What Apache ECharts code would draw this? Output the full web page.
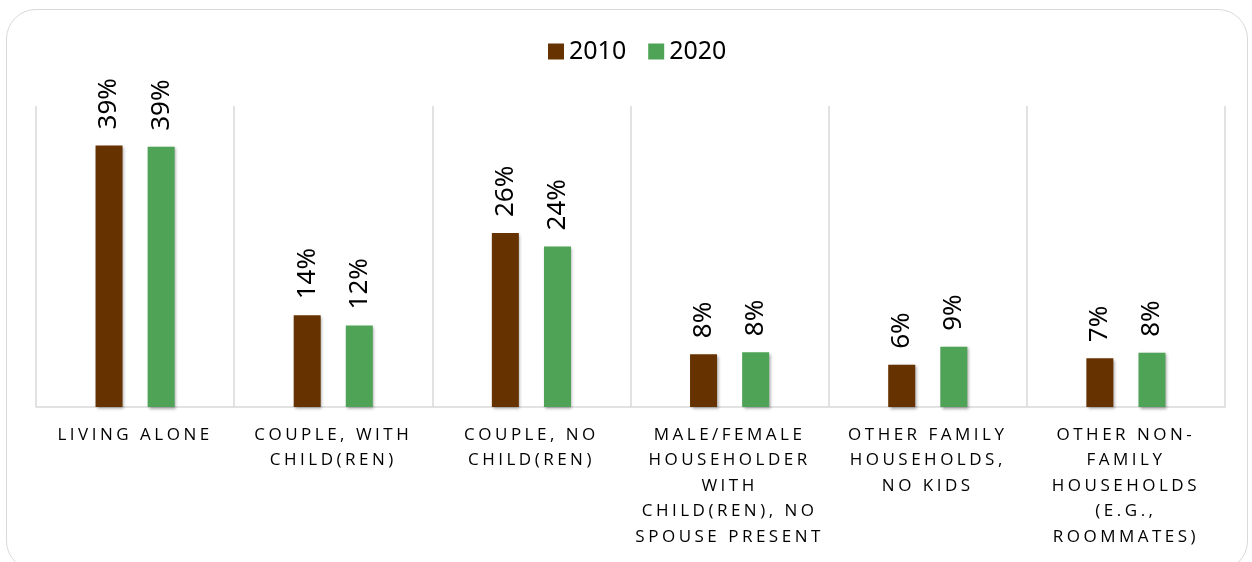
<!DOCTYPE html>
<html>
<head>
<meta charset="utf-8">
<script src="https://cdn.jsdelivr.net/npm/echarts@6/dist/echarts.min.js"></script>
<style>
  html, body { margin: 0; padding: 0; background: #fff; }
  #wrap { position: relative; width: 1252px; height: 562px; overflow: hidden; }
  #frame { position: absolute; left: 6px; top: 9px; width: 1242px; height: 562px;
           border: 1.5px solid #d9d9d9; border-radius: 30px; box-sizing: border-box; }
  #chart { position: absolute; left: 0; top: 0; width: 1252px; height: 562px; }
</style>
</head>
<body>
<div id="wrap">
  <div id="frame"></div>
  <div id="chart"></div>
</div>
<script>
// Letter-spaced category labels (the category font family gets extra tracking)
(function () {
  var orig = CanvasRenderingContext2D.prototype.fillText;
  CanvasRenderingContext2D.prototype.fillText = function (t, x, y, m) {
    var ls = this.font.indexOf('Open Sans') >= 0 ? '3.5px' : '0px';
    if ('letterSpacing' in this && this.letterSpacing !== ls) this.letterSpacing = ls;
    return m === undefined ? orig.call(this, t, x, y) : orig.call(this, t, x, y, m);
  };
})();

const categories = [
  'LIVING ALONE',
  'COUPLE, WITH\nCHILD(REN)',
  'COUPLE, NO\nCHILD(REN)',
  'MALE/FEMALE\nHOUSEHOLDER\nWITH\nCHILD(REN), NO\nSPOUSE PRESENT',
  'OTHER FAMILY\nHOUSEHOLDS,\nNO KIDS',
  'OTHER NON-\nFAMILY\nHOUSEHOLDS\n(E.G.,\nROOMMATES)'
];
const seriesNames = ['2010', '2020'];
const values2010 = [39.1, 13.7, 26.0, 7.9, 6.3, 7.3];
const values2020 = [38.9, 12.2, 24.0, 8.2, 9.0, 8.1];
const colors = ['#663300', '#4ea356'];

const chart = echarts.init(document.getElementById('chart'), null, { renderer: 'canvas' });

function makeSeries(name, data, color) {
  return {
    name: name,
    type: 'bar',
    data: data,
    barWidth: 27,
    barGap: '93%',
    itemStyle: {
      color: color,
      shadowBlur: 3,
      shadowOffsetX: 1.5,
      shadowOffsetY: 1.5,
      shadowColor: 'rgba(0,0,0,0.35)'
    },
    label: {
      show: true,
      position: 'top',
      rotate: 90,
      align: 'left',
      verticalAlign: 'middle',
      distance: 16,
      fontFamily: 'Noto Sans',
      fontSize: 26,
      color: '#000',
      formatter: function (p) { return Math.round(p.value) + '%'; }
    },
    emphasis: { disabled: true }
  };
}

chart.setOption({
  animation: false,
  backgroundColor: 'transparent',
  legend: {
    data: seriesNames,
    left: 543,
    top: 34,
    icon: 'rect',
    itemWidth: 16,
    itemHeight: 16,
    itemGap: 22,
    textStyle: { fontFamily: 'Noto Sans', fontSize: 25, color: '#000' }
  },
  grid: { left: 36, right: 27, top: 106, bottom: 155, containLabel: false },
  xAxis: {
    type: 'category',
    data: categories,
    axisLine: { show: true, lineStyle: { color: '#d9d9d9', width: 1.5 } },
    axisTick: { show: false },
    splitLine: { show: true, interval: 0, lineStyle: { color: '#d9d9d9', width: 1.5 } },
    axisLabel: {
      interval: 0,
      margin: 15,
      fontFamily: 'Open Sans',
      fontSize: 17,
      lineHeight: 25.5,
      color: '#000',
      align: 'center'
    }
  },
  yAxis: {
    type: 'value',
    min: 0,
    max: 45,
    show: false,
    splitLine: { show: false }
  },
  series: [
    makeSeries(seriesNames[0], values2010, colors[0]),
    makeSeries(seriesNames[1], values2020, colors[1])
  ]
});
</script>
</body>
</html>
